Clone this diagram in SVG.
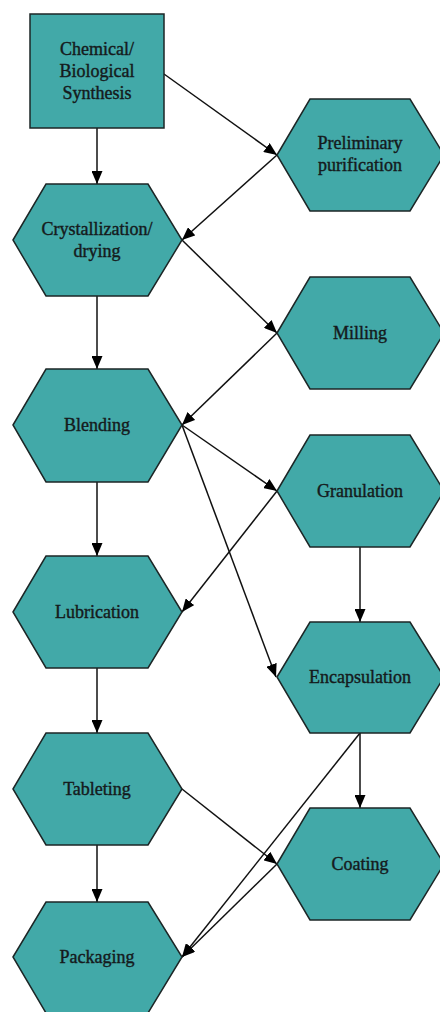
<svg xmlns="http://www.w3.org/2000/svg" width="440" height="1012" viewBox="0 0 440 1012">
<style>
.n{fill:#42a9a8;stroke:#1c2626;stroke-width:1.5}
.t{font-family:"Liberation Serif","Times New Roman",serif;font-size:18px;fill:#151a1c;stroke:#151a1c;stroke-width:0.4;text-anchor:middle}
.c{fill:none;stroke:#111;stroke-width:1.5;marker-end:url(#ah)}
</style>
<defs>
<marker id="ah" viewBox="0 0 13 11" refX="13" refY="5.5" markerWidth="13" markerHeight="11" markerUnits="userSpaceOnUse" orient="auto">
<path d="M0,0 L13,5.5 L0,11 z" fill="#000"/>
</marker>
</defs>
<rect width="440" height="1012" fill="#fff"/>
<g id="connectors">
<line class="c" x1="97" y1="128" x2="97" y2="184"/>
<line class="c" x1="164" y1="74" x2="277" y2="155"/>
<line class="c" x1="277" y1="155" x2="182" y2="240"/>
<line class="c" x1="182" y1="240" x2="277" y2="333"/>
<line class="c" x1="277" y1="333" x2="182" y2="425"/>
<line class="c" x1="97" y1="296" x2="97" y2="369"/>
<line class="c" x1="182" y1="425" x2="277" y2="491"/>
<line class="c" x1="182" y1="425" x2="276" y2="677"/>
<line class="c" x1="277" y1="491" x2="182" y2="612"/>
<line class="c" x1="97" y1="482" x2="97" y2="556"/>
<line class="c" x1="360" y1="547" x2="360" y2="622"/>
<line class="c" x1="97" y1="668" x2="97" y2="733"/>
<line class="c" x1="182" y1="789" x2="277" y2="864"/>
<line class="c" x1="360" y1="733" x2="360" y2="808"/>
<line class="c" x1="360" y1="733" x2="182" y2="957"/>
<line class="c" x1="277" y1="864" x2="182" y2="957"/>
<line class="c" x1="97" y1="845" x2="97" y2="902"/>
</g>
<g id="synthesis">
<rect class="n" x="30" y="14" width="134" height="114"/>
<text class="t" x="97" y="55">Chemical/</text>
<text class="t" x="97" y="77">Biological</text>
<text class="t" x="97" y="99">Synthesis</text>
</g>
<g id="preliminary">
<polygon class="n" points="277,155 310,99 410,99 444,155 410,211 310,211"/>
<text class="t" x="360" y="149">Preliminary</text>
<text class="t" x="360" y="171">purification</text>
</g>
<g id="crystallization">
<polygon class="n" points="13,240 46,184 148,184 182,240 148,296 46,296"/>
<text class="t" x="97" y="235">Crystallization/</text>
<text class="t" x="97" y="257">drying</text>
</g>
<g id="milling">
<polygon class="n" points="277,333 310,277 410,277 444,333 410,389 310,389"/>
<text class="t" x="360" y="339">Milling</text>
</g>
<g id="blending">
<polygon class="n" points="13,425 46,369 148,369 182,425 148,482 46,482"/>
<text class="t" x="97" y="431">Blending</text>
</g>
<g id="granulation">
<polygon class="n" points="277,491 310,435 410,435 444,491 410,547 310,547"/>
<text class="t" x="360" y="497">Granulation</text>
</g>
<g id="lubrication">
<polygon class="n" points="13,612 46,556 148,556 182,612 148,668 46,668"/>
<text class="t" x="97" y="618">Lubrication</text>
</g>
<g id="encapsulation">
<polygon class="n" points="277,677 310,622 410,622 444,677 410,733 310,733"/>
<text class="t" x="360" y="683">Encapsulation</text>
</g>
<g id="tableting">
<polygon class="n" points="13,789 46,733 148,733 182,789 148,845 46,845"/>
<text class="t" x="97" y="795">Tableting</text>
</g>
<g id="coating">
<polygon class="n" points="277,864 310,808 410,808 444,864 410,920 310,920"/>
<text class="t" x="360" y="870">Coating</text>
</g>
<g id="packaging">
<polygon class="n" points="13,957 46,902 148,902 182,957 148,1013 46,1013"/>
<text class="t" x="97" y="963">Packaging</text>
</g>
</svg>
